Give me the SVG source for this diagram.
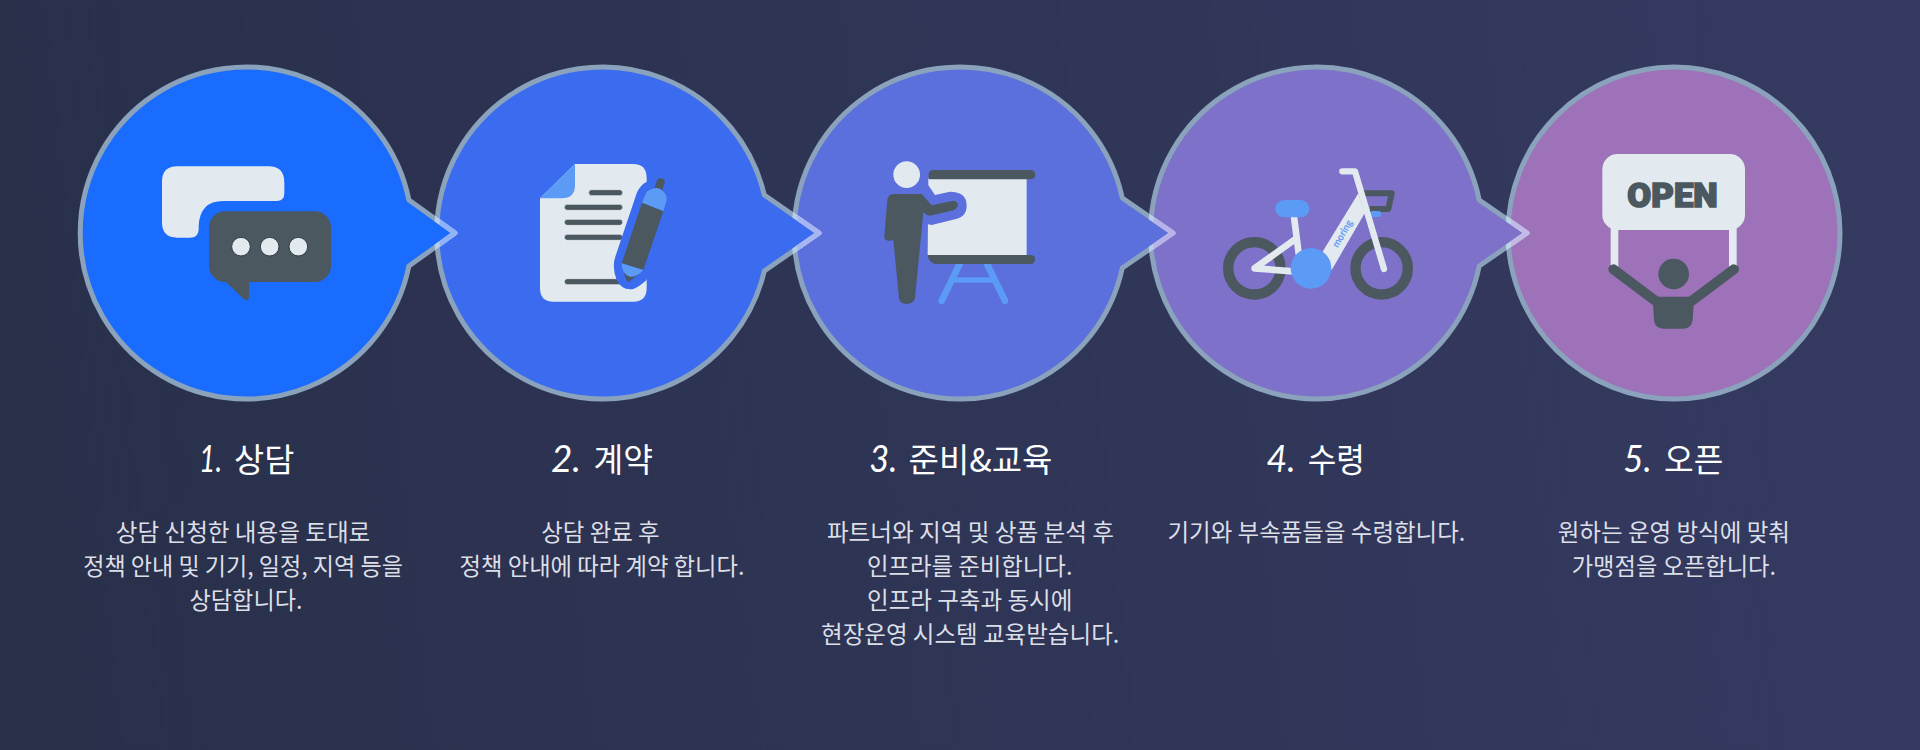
<svg xmlns="http://www.w3.org/2000/svg" width="1920" height="750" viewBox="0 0 1920 750">
<style>
.fr{stroke:#8aa2bb;stroke-width:5;stroke-linejoin:round}
.lt{fill:#e2eaf0}.dk{fill:#4b5860}.bl{fill:#5b9af5}
.ln{fill:#4b5860;stroke:#eef3f7;stroke-width:2}
.t{font-family:"Noto Sans CJK KR","Noto Sans",sans-serif;fill:#fff;font-size:33px;font-weight:400}
.n{font-family:"Lato","Liberation Sans",sans-serif;fill:#fff;font-size:36px;font-weight:400;font-style:italic}
.b{font-family:"Noto Sans CJK KR","Noto Sans",sans-serif;fill:#dcdfe7;font-size:24px;font-weight:400}
.tipA{fill:none;stroke-width:5;stroke-linejoin:round;stroke-linecap:butt}
</style>
<defs>
<linearGradient id="bg" gradientUnits="userSpaceOnUse" x1="0" y1="300" x2="1920" y2="100"><stop offset="0" stop-color="#29304a"/><stop offset="1" stop-color="#353a61"/></linearGradient>
<clipPath id="o2"><circle cx="602.7" cy="233" r="168.5"/></clipPath><clipPath id="i2"><circle cx="602.7" cy="233" r="163.5"/></clipPath>
<clipPath id="o3"><circle cx="960" cy="233" r="168.5"/></clipPath><clipPath id="i3"><circle cx="960" cy="233" r="163.5"/></clipPath>
<clipPath id="o4"><circle cx="1316.500" cy="233" r="168.5"/></clipPath><clipPath id="i4"><circle cx="1316.500" cy="233" r="163.5"/></clipPath>
<clipPath id="o5"><circle cx="1674" cy="233" r="168.5"/></clipPath><clipPath id="i5"><circle cx="1674" cy="233" r="163.5"/></clipPath>
</defs>
<rect width="1920" height="750" fill="url(#bg)"/>

<g id="node5">
<circle class="fr" cx="1674" cy="233" r="166" fill="#9d72b8"/>
<g transform="translate(1490,50) scale(.33333)">
<rect class="lt" x="362" y="500" width="23" height="150"/><rect class="lt" x="717" y="500" width="23" height="150"/>
<rect class="lt" x="337" y="312" width="428" height="228" rx="46"/>
<text x="412" y="472" textLength="271" lengthAdjust="spacingAndGlyphs" font-family="Roboto,'Liberation Sans',sans-serif" font-weight="900" font-size="102" class="dk" stroke="#4b5860" stroke-width="5">OPEN</text>
<circle class="dk" cx="551" cy="672" r="46"/>
<path d="M370 658L500 755M732 658L602 755" stroke="#4b5860" stroke-width="30" stroke-linecap="round" fill="none"/>
<path class="dk" d="M488 740H612L608 810Q605 836 580 836H520Q495 836 492 810Z"/>
</g>
</g>

<g id="node4">
<path class="fr" fill="#7e71c9" d="M1479.200 200L1527 233L1479.200 266A166 166 0 1 1 1479.200 200Z"/>
<g transform="translate(1140,50) scale(.33333)">
<circle cx="343" cy="655" r="78.5" fill="none" stroke="#4b5860" stroke-width="31"/>
<circle cx="725" cy="655" r="78.5" fill="none" stroke="#4b5860" stroke-width="31"/>
<path d="M670 430H755L745 477H690" fill="none" stroke="#4b5860" stroke-width="18" stroke-linejoin="round"/>
<rect class="bl" x="690" y="483" width="34" height="18" rx="9"/>
<path d="M462 500L476 610M344 655L465 568M344 655L470 665" fill="none" stroke="#e2eaf0" stroke-width="20" stroke-linecap="round" stroke-linejoin="round"/>
<path class="lt" d="M655 430L674 490L575 660L545 610Z"/>
<path d="M607 364H645L732 657" fill="none" stroke="#e2eaf0" stroke-width="19" stroke-linecap="round" stroke-linejoin="round"/>
<rect class="bl" x="406" y="450" width="102" height="52" rx="26"/>
<circle class="bl" cx="513" cy="655" r="61"/>
<text transform="translate(593,595) rotate(-60)" class="bl" font-family="Lato,'Liberation Sans',sans-serif" font-weight="700" font-size="31" textLength="90" lengthAdjust="spacingAndGlyphs">moring</text>
</g>
</g>

<g id="node3">
<path class="fr" fill="#5b6fdd" d="M1122.3 198L1173 233L1122.3 268A166 166 0 1 1 1122.3 198Z"/>
<g transform="translate(790,50) scale(.33333)">
<path d="M510 640L455 752M590 640L645 752" stroke="#5b9af5" stroke-width="20" stroke-linecap="round" fill="none"/>
<path d="M490 690H610" stroke="#5b9af5" stroke-width="17" fill="none"/>
<path class="lt" d="M415 385H710V615H413Z"/>
<path class="dk" d="M430 360H722A14 14 0 0 1 722 388H416V374Q416 360 430 360Z"/>
<path class="dk" d="M414 615H722A13.500 13.500 0 0 1 722 642H440Q420 642 414 620Z"/>
<circle class="lt" cx="350" cy="374" r="40"/>
<path fill="#5b6fdd" d="M408 395L435 435L480 425Q530 425 530 467Q530 500 495 508L425 525L400 520L395 400Z"/>
<path class="dk" d="M310 432H395L425 466L490 452Q505 455 503 468Q500 478 490 481L420 497Q410 497 403 490L400 485L375 745Q370 762 350 762Q330 762 327 745L310 570Q305 572 295 572Q282 570 283 560L292 450Q295 432 310 432Z"/>
</g>
</g>

<g id="node2">
<path class="fr" fill="#3b6cf0" d="M764.300 195L819 233L764.300 271A166 166 0 1 1 764.300 195Z"/>
<g transform="translate(430,50) scale(.33333)">
<path class="lt" d="M435 342H610Q650 342 650 385V715Q650 755 610 755H370Q330 755 330 715V445Z"/>
<path class="bl" d="M435 342V405Q435 445 395 445H330Z"/>
<rect class="ln" x="476" y="419" width="102" height="18" rx="9"/>
<rect class="ln" x="403" y="463" width="175" height="18" rx="9"/>
<rect class="ln" x="403" y="508" width="175" height="18" rx="9"/>
<rect class="ln" x="403" y="553" width="175" height="18" rx="9"/>
<rect class="ln" x="403" y="686" width="175" height="18" rx="9"/>
<path fill="#3b6cf0" d="M650 395Q630 405 620 430L556 620Q545 650 560 690Q575 722 610 717Q625 712 650 690L670 500Z"/>
<path d="M692 396L684 422" stroke="#4b5860" stroke-width="24" stroke-linecap="round" fill="none"/>
<path class="dk" d="M582 665Q590 682 610 680L632 670L595 696Q585 690 582 665Z"/>
<path class="bl" d="M636 458L650 425Q670 410 690 416Q712 430 710 450L700 484Z"/>
<path class="dk" d="M636 458L700 484L640 660L575 640Z"/>
<path class="bl" d="M575 640L640 660Q625 680 600 680Q575 672 575 640Z"/>
</g>
</g>

<g id="node1">
<path class="fr" fill="#1a6bff" d="M408.900 200L455 233L408.900 266A166 166 0 1 1 408.900 200Z"/>
<g transform="translate(60,50) scale(.33333)">
<path class="lt" d="M352 349H625Q673 349 673 397V430Q673 453 650 453H490Q418 453 416 530V540Q414 563 390 563H352Q306 563 306 517V395Q306 349 352 349Z"/>
<path class="dk" d="M495 484H765A48 48 0 0 1 813 532V648A48 48 0 0 1 765 696H567V740Q566 755 552 748L498 696H495A48 48 0 0 1 447 648V532A48 48 0 0 1 495 484Z"/>
<g fill="#e2eaf0" stroke="#2f3a40" stroke-width="3"><circle cx="543" cy="590" r="28"/><circle cx="629" cy="590" r="28"/><circle cx="715" cy="590" r="28"/></g>
</g>
</g>

<g id="connectors">
<path class="tipA" stroke="#b6d0e8" clip-path="url(#o2)" d="M408.900 200L455 233L408.900 266"/>
<path class="tipA" stroke="#8fb2fa" clip-path="url(#i2)" d="M408.900 200L455 233L408.900 266"/>
<path class="tipA" stroke="#b6cde6" clip-path="url(#o3)" d="M764.300 195L819 233L764.300 271"/>
<path class="tipA" stroke="#a7b6f2" clip-path="url(#i3)" d="M764.300 195L819 233L764.300 271"/>
<path class="tipA" stroke="#b9cde6" clip-path="url(#o4)" d="M1122.300 198L1173 233L1122.300 268"/>
<path class="tipA" stroke="#b7b2ea" clip-path="url(#i4)" d="M1122.300 198L1173 233L1122.300 268"/>
<path class="tipA" stroke="#bcd4ea" clip-path="url(#o5)" d="M1479.200 200L1527 233L1479.200 266"/>
<path class="tipA" stroke="#c4b8e6" clip-path="url(#i5)" d="M1479.200 200L1527 233L1479.200 266"/>
</g>

<g id="label1">
<text class="n" x="199" y="472" textLength="23" lengthAdjust="spacingAndGlyphs">1.</text><text class="t" x="234.100" y="472" textLength="60.300" lengthAdjust="spacingAndGlyphs">상담</text>
<text class="b" x="115.800" y="541" textLength="254.500" lengthAdjust="spacingAndGlyphs">상담 신청한 내용을 토대로</text>
<text class="b" x="83.200" y="575" textLength="319.700" lengthAdjust="spacingAndGlyphs">정책 안내 및 기기, 일정, 지역 등을</text>
<text class="b" x="189.500" y="609" textLength="112.900" lengthAdjust="spacingAndGlyphs">상담합니다.</text>
</g>
<g id="label2">
<text class="n" x="551" y="472" textLength="30" lengthAdjust="spacingAndGlyphs">2.</text><text class="t" x="593.500" y="472" textLength="59.400" lengthAdjust="spacingAndGlyphs">계약</text>
<text class="b" x="541.300" y="541" textLength="118.300" lengthAdjust="spacingAndGlyphs">상담 완료 후</text>
<text class="b" x="459.600" y="575" textLength="284.800" lengthAdjust="spacingAndGlyphs">정책 안내에 따라 계약 합니다.</text>
</g>
<g id="label3">
<text class="n" x="869.300" y="472" textLength="28" lengthAdjust="spacingAndGlyphs">3.</text><text class="t" x="908.600" y="472" textLength="143.700" lengthAdjust="spacingAndGlyphs">준비&amp;교육</text>
<text class="b" x="826.900" y="541" textLength="287" lengthAdjust="spacingAndGlyphs">파트너와 지역 및 상품 분석 후</text>
<text class="b" x="867" y="575" textLength="205.400" lengthAdjust="spacingAndGlyphs">인프라를 준비합니다.</text>
<text class="b" x="867" y="609" textLength="205.400" lengthAdjust="spacingAndGlyphs">인프라 구축과 동시에</text>
<text class="b" x="821" y="643" textLength="298.300" lengthAdjust="spacingAndGlyphs">현장운영 시스템 교육받습니다.</text>
</g>
<g id="label4">
<text class="n" x="1266.600" y="472" textLength="29" lengthAdjust="spacingAndGlyphs">4.</text><text class="t" x="1307.700" y="472" textLength="57.100" lengthAdjust="spacingAndGlyphs">수령</text>
<text class="b" x="1167.500" y="541" textLength="297.800" lengthAdjust="spacingAndGlyphs">기기와 부속품들을 수령합니다.</text>
</g>
<g id="label5">
<text class="n" x="1623.300" y="472" textLength="28.400" lengthAdjust="spacingAndGlyphs">5.</text><text class="t" x="1664" y="472" textLength="59.300" lengthAdjust="spacingAndGlyphs">오픈</text>
<text class="b" x="1557.700" y="541" textLength="232.300" lengthAdjust="spacingAndGlyphs">원하는 운영 방식에 맞춰</text>
<text class="b" x="1571.700" y="575" textLength="204.300" lengthAdjust="spacingAndGlyphs">가맹점을 오픈합니다.</text>
</g>
</svg>
